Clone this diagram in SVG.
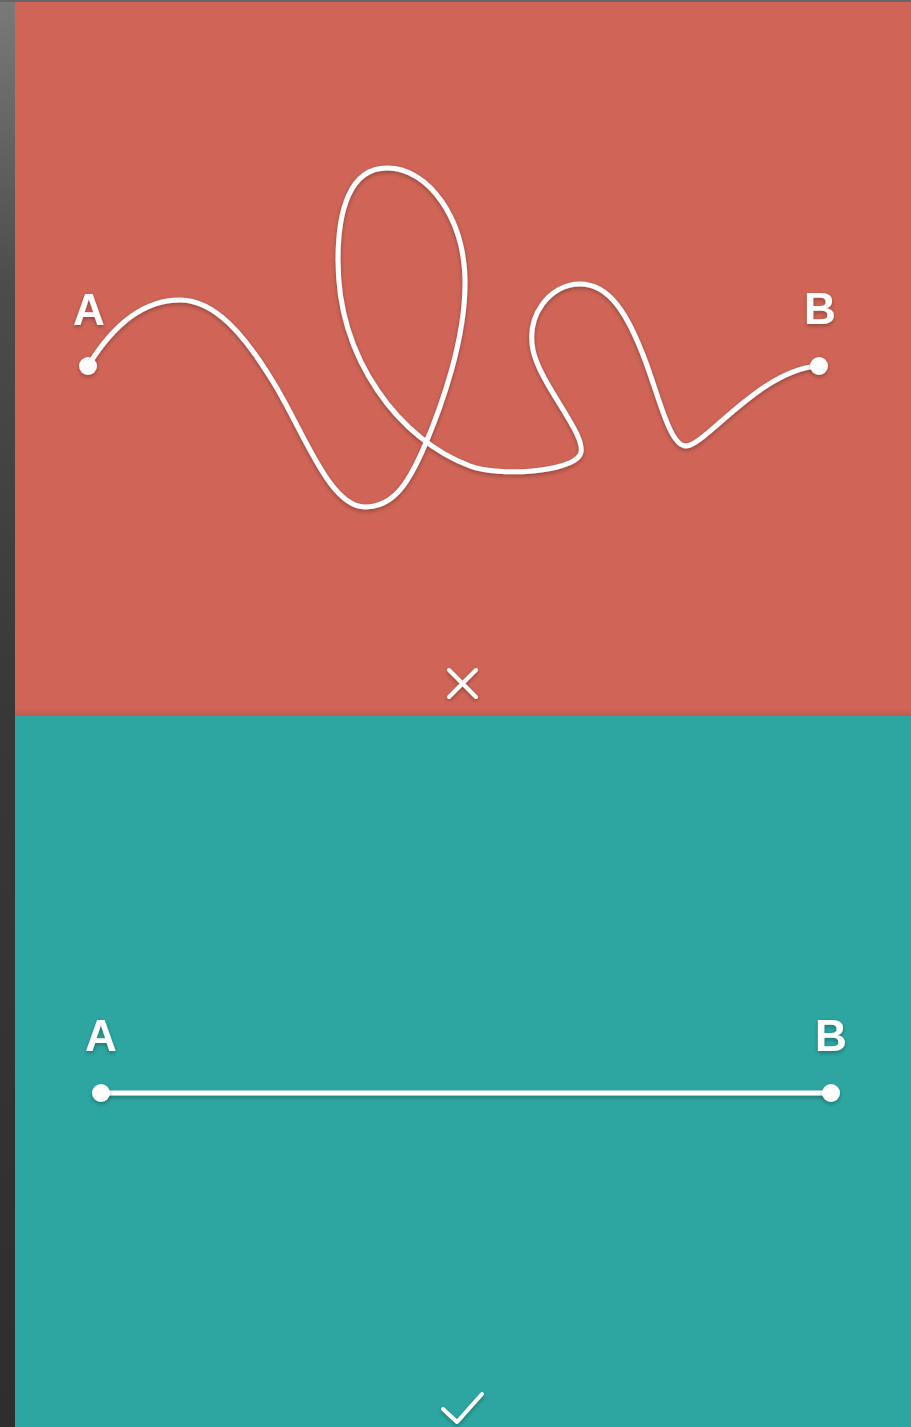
<svg xmlns="http://www.w3.org/2000/svg" width="911" height="1427" viewBox="0 0 911 1427">
  <defs>
    <linearGradient id="frameGrad" x1="0" y1="0" x2="0" y2="1">
      <stop offset="0" stop-color="#7a7a7a"/>
      <stop offset="0.2" stop-color="#4c4c4c"/>
      <stop offset="0.5" stop-color="#383838"/>
      <stop offset="1" stop-color="#2e2e2e"/>
    </linearGradient>
    <linearGradient id="seam" x1="0" y1="0" x2="0" y2="1">
      <stop offset="0" stop-color="#000" stop-opacity="0"/>
      <stop offset="1" stop-color="#000" stop-opacity="0.08"/>
    </linearGradient>
    <filter id="shadow" x="-20%" y="-20%" width="140%" height="140%">
      <feDropShadow dx="0" dy="2" stdDeviation="2" flood-color="#000" flood-opacity="0.3"/>
    </filter>
    <style>
      .lbl { font-family: "Liberation Sans", Arial, sans-serif; font-weight: bold; font-size: 44px; fill: #ffffff; text-anchor: middle; }
      .wire { fill: none; stroke: #ffffff; stroke-width: 5; stroke-linecap: round; stroke-linejoin: round; }
      .dot { fill: #ffffff; }
      .mark { fill: none; stroke: #ffffff; stroke-width: 4; stroke-linecap: round; stroke-linejoin: round; }
    </style>
  </defs>

  <!-- frame -->
  <rect x="0" y="0" width="911" height="1427" fill="url(#frameGrad)"/>
  <rect x="0" y="0" width="911" height="2" fill="#666666"/>

  <!-- panels -->
  <rect id="panel-bad" x="15" y="2" width="896" height="714" fill="#D06557"/>
  <rect x="15" y="708" width="896" height="8" fill="url(#seam)"/>
  <rect id="panel-good" x="15" y="716" width="896" height="711" fill="#2DA6A1"/>

  <!-- connectors -->
  <g id="connectors" filter="url(#shadow)">
    <path id="wiggly" class="wire" d="M 88 366
      C 110 330, 140 300, 180 300
      C 215 300, 245 335, 275 385
      C 305 435, 330 507, 365 507
      C 395 507, 410 480, 425 445
      C 440 410, 466 340, 465 280
      C 464 220, 430 168, 387 168
      C 350 168, 338 210, 338 260
      C 338 360, 400 440, 470 466
      C 500 477, 570 472, 580 455
      C 590 438, 540 385, 533 350
      C 526 315, 550 284, 580 284
      C 610 284, 628 315, 645 360
      C 660 400, 670 446, 686 446
      C 705 446, 760 370, 818 366"/>
    <line id="straight" class="wire" x1="101" y1="1093" x2="831" y2="1093"/>
  </g>

  <!-- nodes top -->
  <g id="top-A" filter="url(#shadow)">
    <circle class="dot" cx="88" cy="366" r="9"/>
    <text class="lbl" x="89" y="325">A</text>
  </g>
  <g id="top-B" filter="url(#shadow)">
    <circle class="dot" cx="819" cy="366" r="9"/>
    <text class="lbl" x="820" y="324">B</text>
  </g>

  <!-- nodes bottom -->
  <g id="bottom-A" filter="url(#shadow)">
    <circle class="dot" cx="101" cy="1093" r="9"/>
    <text class="lbl" x="101" y="1051">A</text>
  </g>
  <g id="bottom-B" filter="url(#shadow)">
    <circle class="dot" cx="831" cy="1093" r="9"/>
    <text class="lbl" x="831" y="1051">B</text>
  </g>

  <!-- marks -->
  <g id="cross" filter="url(#shadow)">
    <path class="mark" d="M 449 670 L 476 697 M 476 670 L 449 697"/>
  </g>
  <g id="check" filter="url(#shadow)">
    <path class="mark" d="M 443 1409 L 457 1422 L 482 1394"/>
  </g>
</svg>
